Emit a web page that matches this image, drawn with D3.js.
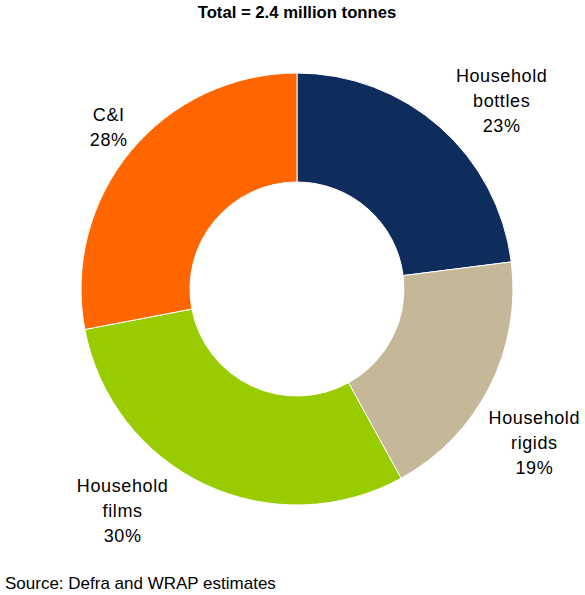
<!DOCTYPE html>
<html>
<head>
<meta charset="utf-8">
<script src="https://cdn.jsdelivr.net/npm/d3@7"></script>
<style>
  body { margin: 0; background: #fff; }
  svg text { font-family: "Liberation Sans", Arial, sans-serif; fill: #000; }
</style>
</head>
<body>
<div id="main"></div>
<script>
const categories = ["Household bottles", "Household rigids", "Household films", "C&I"]
const labelLines = [["Household", "bottles"], ["Household", "rigids"], ["Household", "films"], ["C&I"]]
const shares = [23, 19, 30, 28]
const colors = ["#0f2d5c", "#c4b898", "#99cc00", "#ff6600"]

const width = 585, height = 595
const cx = 297, cy = 289
const outerR = 216, innerR = 107

// label placement: angle nudge (deg) and radius, per slice
const labelAdjust = [
  {da: 6, r: 278},
  {da: 6, r: 283},
  {da: 13, r: 282},
  {da: 1, r: 248}
]

let svg = d3.select('div#main').append('svg')
            .attr('width', width)
            .attr('height', height)

svg.append('text')
   .attr('x', cx)
   .attr('y', 18)
   .attr('text-anchor', 'middle')
   .attr('font-weight', 'bold')
   .attr('font-size', '16.7px')
   .text('Total = 2.4 million tonnes')

let pie = d3.pie().sort(null).value((d) => d)
let arc = d3.arc().innerRadius(innerR).outerRadius(outerR)
let arcs = pie(shares)

let chartGroup = svg.append('g')
  .attr('transform', `translate(${cx},${cy})`)

chartGroup.selectAll('path.slice')
  .data(arcs)
  .enter()
  .append('path')
    .attr('class', 'slice')
    .attr('d', arc)
    .attr('fill', (d, i) => colors[i])
    .attr('stroke', '#fff')
    .attr('stroke-width', '1')

let labels = chartGroup.selectAll('text.lbl')
  .data(arcs)
  .enter()
  .append('text')
    .attr('class', 'lbl')
    .attr('text-anchor', 'middle')
    .attr('font-size', '18px')
    .attr('letter-spacing', '0.6px')
    .attr('transform', (d, i) => {
      let a = (d.startAngle + d.endAngle) / 2 + labelAdjust[i].da * Math.PI / 180
      let r = labelAdjust[i].r
      let lines = labelLines[i].length + 1
      let x = Math.sin(a) * r
      let y = -Math.cos(a) * r - (lines - 1) * 25 / 2 + 6
      return `translate(${x},${y})`
    })

labels.each(function (d, i) {
  let t = d3.select(this)
  labelLines[i].concat([shares[i] + '%']).forEach((s, j) => {
    t.append('tspan').attr('x', 0).attr('dy', j === 0 ? 0 : 25).text(s)
  })
})

svg.append('text')
   .attr('x', 5)
   .attr('y', 589)
   .attr('font-size', '17px')
   .text('Source: Defra and WRAP estimates')
</script>
</body>
</html>
